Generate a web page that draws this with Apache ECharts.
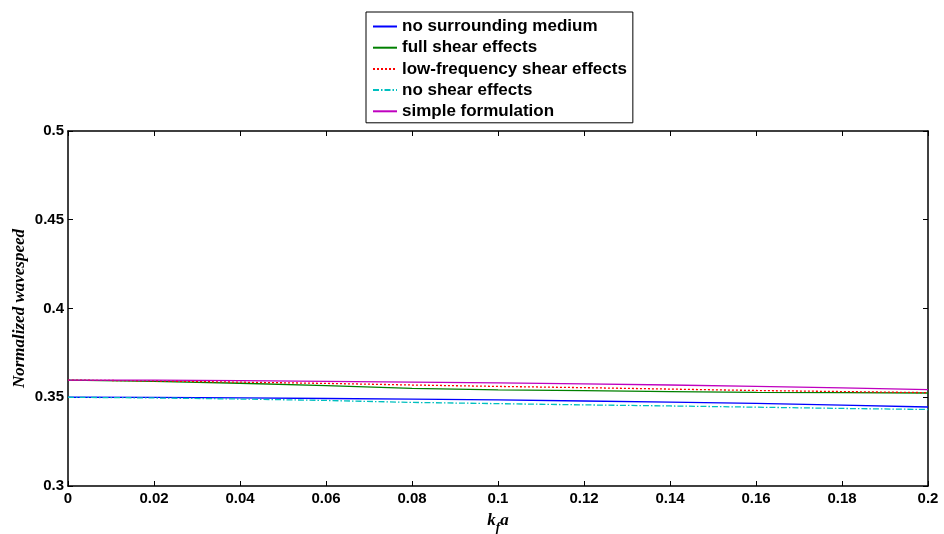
<!DOCTYPE html>
<html>
<head>
<meta charset="utf-8">
<script src="https://cdn.jsdelivr.net/npm/echarts@6/dist/echarts.min.js"></script>
<style>html,body{margin:0;padding:0;background:#fff}#c{width:944px;height:534px}</style>
</head>
<body>
<div id="c"></div>
<script>
var kfa = [0, 0.02, 0.04, 0.06, 0.08, 0.1, 0.12, 0.14, 0.16, 0.18, 0.2];
var noSurrounding = [0.3500, 0.3499, 0.3496, 0.3493, 0.3489, 0.3485, 0.3479, 0.3473, 0.3465, 0.3456, 0.3445];
var fullShear     = [0.3597, 0.3589, 0.3579, 0.3565, 0.3550, 0.3542, 0.3537, 0.3532, 0.3528, 0.3526, 0.3524];
var lowFreqShear  = [0.3597, 0.3592, 0.3585, 0.3578, 0.3569, 0.3561, 0.3554, 0.3546, 0.3538, 0.3532, 0.3526];
var noShear       = [0.3500, 0.3496, 0.3490, 0.3482, 0.3471, 0.3464, 0.3457, 0.3451, 0.3444, 0.3437, 0.3431];
var simpleForm    = [0.3597, 0.3596, 0.3594, 0.3590, 0.3585, 0.3581, 0.3575, 0.3569, 0.3561, 0.3553, 0.3543];
var seriesNames = ['no surrounding medium', 'full shear effects', 'low-frequency shear effects', 'no shear effects', 'simple formulation'];

function pairs(v){ return kfa.map(function(x,i){ return [x, v[i]]; }); }

var chart = echarts.init(document.getElementById('c'));
var tickStyle = {show:true, inside:true, length:5, lineStyle:{color:'#000', width:1}};
var lblFont = {color:'#000', fontFamily:'Liberation Sans, Arial', fontWeight:'bold', fontSize:15};
function mk(name, data, color, type, z){
  return {name:name, type:'line', data:pairs(data), symbol:'none', showSymbol:false, z:z,
    lineStyle:{color:color, width:1.3, type:type}, itemStyle:{color:color}};
}
chart.setOption({
  animation:false,
  backgroundColor:'#fff',
  grid:{left:68, right:16, top:131, bottom:48, containLabel:false, outerBoundsMode:'none'},
  legend:{
    orient:'vertical', left:366, top:12,
    padding:[6,6,3,6], itemGap:4.2, itemWidth:24, itemHeight:17,
    borderColor:'#000', borderWidth:1, backgroundColor:'#fff',
    itemStyle:{opacity:0},
    textStyle:{color:'#000', fontFamily:'Liberation Sans, Arial', fontWeight:'bold', fontSize:17, lineHeight:17},
    data:seriesNames
  },
  xAxis:[{
    type:'value', min:0, max:0.2, interval:0.02, position:'bottom',
    axisLine:{show:true, onZero:false, lineStyle:{color:'#000', width:1.5}},
    axisTick:tickStyle, splitLine:{show:false},
    axisLabel:Object.assign({margin:5}, lblFont),
    name:'{k|k}{f|f}{a|a}', nameLocation:'middle', nameGap:22,
    nameTextStyle:{rich:{
      k:{fontFamily:'Liberation Serif, Times New Roman', fontStyle:'italic', fontWeight:'bold', fontSize:17, color:'#000'},
      f:{fontFamily:'Liberation Serif, Times New Roman', fontStyle:'italic', fontWeight:'bold', fontSize:13, color:'#000', padding:[13,0,0,0]},
      a:{fontFamily:'Liberation Serif, Times New Roman', fontStyle:'italic', fontWeight:'bold', fontSize:17, color:'#000'}
    }}
  },{
    type:'value', min:0, max:0.2, interval:0.02, position:'top',
    axisLine:{show:true, onZero:false, lineStyle:{color:'#000', width:1.5}},
    axisTick:tickStyle, axisLabel:{show:false}, splitLine:{show:false}
  }],
  yAxis:[{
    type:'value', min:0.3, max:0.5, interval:0.05, position:'left',
    axisLine:{show:true, onZero:false, lineStyle:{color:'#000', width:1.5}},
    axisTick:tickStyle, splitLine:{show:false},
    axisLabel:Object.assign({margin:4}, lblFont),
    name:'Normalized wavespeed', nameLocation:'middle', nameGap:40, nameRotate:90, nameMoveOverlap:false,
    nameTextStyle:{fontFamily:'Liberation Serif, Times New Roman', fontStyle:'italic', fontWeight:'bold', fontSize:17, color:'#000'}
  },{
    type:'value', min:0.3, max:0.5, interval:0.05, position:'right',
    axisLine:{show:true, onZero:false, lineStyle:{color:'#000', width:1.5}},
    axisTick:tickStyle, axisLabel:{show:false}, splitLine:{show:false}
  }],
  series:[
    mk(seriesNames[0], noSurrounding, '#0000ff', 'solid', 2),
    mk(seriesNames[1], fullShear, '#008000', 'solid', 3),
    mk(seriesNames[2], lowFreqShear, '#ff0000', [2,2], 4),
    mk(seriesNames[3], noShear, '#00bfbf', [6,2,1.5,2], 5),
    mk(seriesNames[4], simpleForm, '#bf00bf', 'solid', 6)
  ]
});
</script>
</body>
</html>
